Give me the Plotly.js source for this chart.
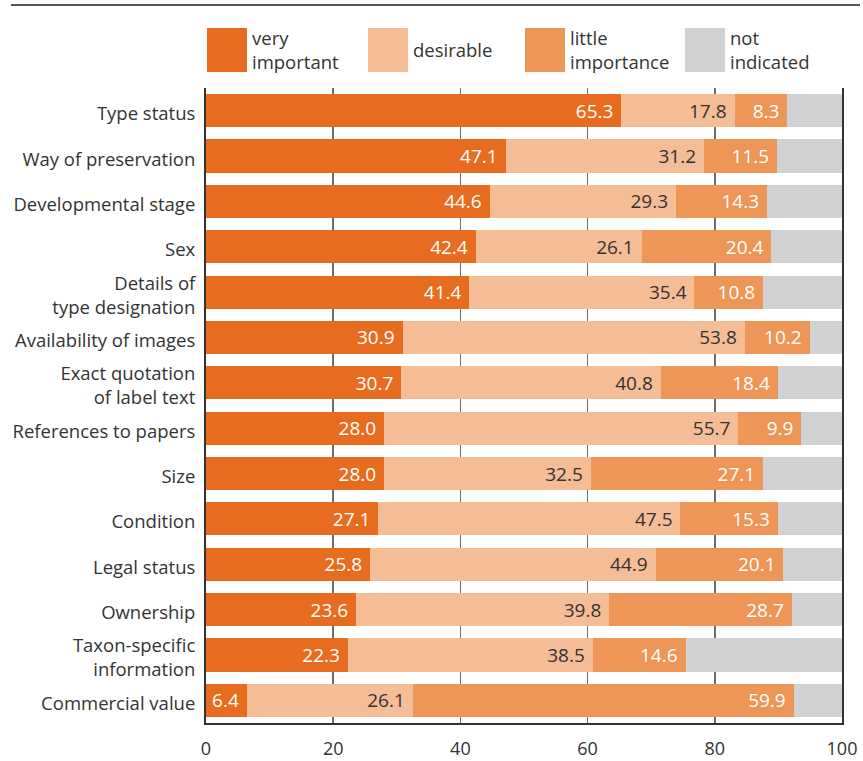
<!DOCTYPE html>
<html>
<head>
<meta charset="utf-8">
<script src="https://cdn.plot.ly/plotly-3.0.1.min.js"></script>
<style>html,body{margin:0;padding:0;background:#fff;}#chart{width:863px;height:761px;}</style>
</head>
<body>
<div id="chart"></div>
<script>
const categories = ["Type status","Way of preservation","Developmental stage","Sex","Details of<br>type designation","Availability of images","Exact quotation<br>of label text","References to papers","Size","Condition","Legal status","Ownership","Taxon-specific<br>information","Commercial value"];
const veryImportant = [65.3,47.1,44.6,42.4,41.4,30.9,30.7,28.0,28.0,27.1,25.8,23.6,22.3,6.4];
const desirable = [17.8,31.2,29.3,26.1,35.4,53.8,40.8,55.7,32.5,47.5,44.9,39.8,38.5,26.1];
const littleImportance = [8.3,11.5,14.3,20.4,10.8,10.2,18.4,9.9,27.1,15.3,20.1,28.7,14.6,59.9];
const notIndicated = [8.6,10.2,11.8,11.1,12.4,5.1,10.1,6.4,12.4,10.1,9.2,7.9,24.6,7.6];
const seriesNames = ["very<br>important","desirable","little<br>importance","not<br>indicated"];
const xTicks = [0,20,40,60,80,100];

const colors = ["#E86C1F","#F5BD96","#EE9558","#D1D2D4"];
const textColors = ["#ffffff","#333333","#ffffff","#333333"];
const values = [veryImportant, desirable, littleImportance, notIndicated];
const FONT = "Open Sans, sans-serif";

const traces = values.map((v, i) => ({
  type: "bar",
  orientation: "h",
  y: categories,
  x: v,
  name: seriesNames[i],
  marker: {color: colors[i], line: {width: 0}},
  texttemplate: i < 3 ? "%{x:.1f}\u00a0" : "",
  textposition: i < 3 ? "inside" : "none",
  insidetextanchor: "end",
  textangle: 0,
  constraintext: "none",
  insidetextfont: {family: FONT, size: 19, color: textColors[i]},
  hoverinfo: "x+y",
  showlegend: false
}));

const pxX = px => (px - 206) / 636;
const pxY = py => (723 - py) / 635;
const legendLeft = [207, 368, 525, 685];

const shapes = [{
  type: "line", xref: "paper", yref: "paper",
  x0: pxX(11), x1: pxX(860), y0: pxY(5), y1: pxY(5),
  line: {color: "#555555", width: 2}
}];
const annotations = [];
seriesNames.forEach((n, i) => {
  shapes.push({
    type: "rect", xref: "paper", yref: "paper",
    x0: pxX(legendLeft[i]), x1: pxX(legendLeft[i] + 40),
    y0: pxY(72), y1: pxY(28),
    fillcolor: colors[i], line: {width: 0}
  });
  annotations.push({
    xref: "paper", yref: "paper",
    x: pxX(legendLeft[i] + 43), y: pxY(50),
    xanchor: "left", yanchor: "middle", align: "left",
    text: n, showarrow: false,
    font: {family: FONT, size: 18.5, color: "#333333"}
  });
});

const layout = {
  width: 863, height: 761,
  margin: {l: 206, r: 21, t: 88, b: 38, pad: 0},
  barmode: "stack",
  bargap: 0.27,
  paper_bgcolor: "#ffffff",
  plot_bgcolor: "#ffffff",
  font: {family: FONT, size: 18.5, color: "#333333"},
  xaxis: {
    range: [0, 100],
    tickvals: xTicks,
    ticktext: xTicks.map(String),
    showgrid: true, gridcolor: "#6e6e6e", gridwidth: 1.5,
    showline: true, linecolor: "#333333", linewidth: 2,
    ticks: "", zeroline: false,
    ticklabelstandoff: 8,
    tickfont: {family: FONT, size: 18, color: "#333333"},
    fixedrange: true
  },
  yaxis: {
    autorange: "reversed",
    showline: true, mirror: true, linecolor: "#333333", linewidth: 2,
    showgrid: false, ticks: "",
    ticklabelstandoff: 5,
    ticklabelshift: -3,
    tickfont: {family: FONT, size: 18.5, color: "#333333"},
    fixedrange: true
  },
  shapes: shapes,
  annotations: annotations,
  showlegend: false
};

Plotly.newPlot("chart", traces, layout, {displayModeBar: false, staticPlot: true});
</script>
</body>
</html>
